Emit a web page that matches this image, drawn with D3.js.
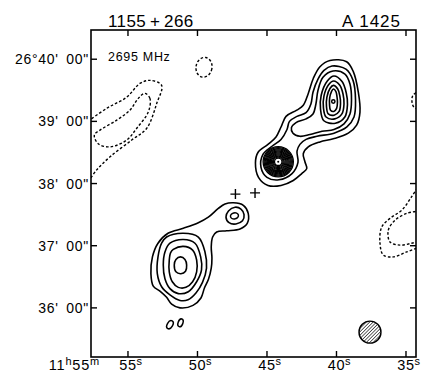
<!DOCTYPE html>
<html>
<head>
<meta charset="utf-8">
<script src="https://cdn.jsdelivr.net/npm/d3@7/dist/d3.min.js"></script>
<style>
  body { margin: 0; background: #fff; }
  text { font-family: "Liberation Sans", Arial, sans-serif; fill: #000; }
</style>
</head>
<body>
<div id="chart"></div>
<script>
// coordinates: [RA seconds of 11h55m, Dec arcmin of 26deg]
var xTicks = [55, 50, 45, 40, 35];
var xTickLabels = ["55", "50", "45", "40", "35"];
var yTicks = [40, 39, 38, 37, 36];
var yTickLabels = ["26°40' 00\"", "39' 00\"", "38' 00\"", "37' 00\"", "36' 00\""];

// positive contours, NE lobe + core
var neL1 = [[40.47,39.98],[39.27,39.96],[38.79,39.80],[38.43,39.47],[38.31,39.15],[38.55,38.94],[39.15,38.81],[40.23,38.72],[41.19,38.67],[42.03,38.59],[42.39,38.48],[42.27,38.35],[42.14,38.24],[42.50,38.16],[43.11,38.05],[43.99,37.97],[44.93,37.97],[45.61,38.10],[45.83,38.33],[45.65,38.50],[44.93,38.63],[44.35,38.75],[43.99,38.91],[43.63,39.08],[42.86,39.18],[42.39,39.26],[42.03,39.45],[41.67,39.69],[41.19,39.88]];
var neL2 = [[40.32,39.89],[39.32,39.84],[38.81,39.66],[38.63,39.34],[38.74,39.07],[39.25,38.91],[40.18,38.81],[41.40,38.76],[42.19,38.71],[42.63,38.63],[42.84,38.52],[42.77,38.34],[43.20,38.16],[44.14,38.06],[45.00,38.10],[45.43,38.26],[45.29,38.47],[44.64,38.60],[43.99,38.71],[43.56,38.87],[43.38,39.00],[42.84,39.08],[42.19,39.14],[41.84,39.28],[41.69,39.47],[41.33,39.68],[40.90,39.82]];
var neL3 = [[40.25,39.81],[39.39,39.76],[39.03,39.60],[38.92,39.34],[39.03,39.12],[39.46,38.96],[40.18,38.87],[41.04,38.84],[41.91,38.79],[42.63,38.76],[43.13,38.81],[43.24,38.90],[42.91,38.98],[42.19,39.04],[41.69,39.12],[41.48,39.28],[41.33,39.50],[40.97,39.71]];
var neL4 = [[40.18,39.73],[39.60,39.64],[39.30,39.46],[39.21,39.27],[39.40,39.07],[40.08,38.97],[40.91,39.01],[41.15,39.20],[41.10,39.42],[40.66,39.65]];
var neL5 = [[40.20,39.65],[39.76,39.58],[39.53,39.44],[39.46,39.28],[39.61,39.12],[40.12,39.04],[40.75,39.07],[40.94,39.22],[40.90,39.41],[40.57,39.59]];
var neL6 = [[40.22,39.58],[39.91,39.52],[39.76,39.41],[39.71,39.29],[39.81,39.16],[40.17,39.10],[40.59,39.12],[40.72,39.24],[40.69,39.39],[40.47,39.53]];
var neL7 = [[40.22,39.52],[40.04,39.48],[39.96,39.39],[39.93,39.31],[39.99,39.21],[40.19,39.16],[40.43,39.18],[40.50,39.27],[40.49,39.38],[40.36,39.48]];

// SW lobe + knot
var swL1 = [[47.42,37.69],[46.70,37.65],[46.35,37.52],[46.42,37.36],[46.94,37.27],[47.90,37.24],[48.62,37.22],[48.91,37.14],[49.01,36.98],[48.96,36.80],[49.01,36.64],[49.21,36.46],[49.50,36.32],[49.75,36.16],[50.32,36.04],[51.26,36.00],[51.86,36.06],[52.22,36.17],[52.70,36.27],[53.18,36.35],[53.35,36.55],[53.24,36.82],[52.84,37.04],[52.12,37.20],[51.02,37.28],[49.94,37.37],[49.22,37.46],[48.50,37.60],[48.02,37.67]];
var swL2 = [[52.22,37.14],[51.02,37.20],[49.94,37.14],[49.46,36.90],[49.35,36.64],[49.64,36.41],[50.11,36.24],[50.68,36.13],[51.26,36.12],[51.98,36.21],[52.58,36.34],[52.89,36.55],[52.84,36.82],[52.58,37.04]];
var swL3 = [[51.98,37.04],[51.02,37.10],[50.18,37.04],[49.77,36.82],[49.71,36.61],[50.06,36.42],[50.66,36.26],[51.38,36.23],[51.98,36.31],[52.34,36.47],[52.46,36.69],[52.34,36.90]];
var swL4 = [[51.74,36.94],[51.02,36.99],[50.35,36.93],[50.06,36.77],[50.06,36.58],[50.35,36.42],[50.83,36.33],[51.38,36.33],[51.81,36.42],[52.03,36.58],[52.03,36.77],[51.93,36.89]];
var swL5 = [[51.22,36.82],[50.90,36.78],[50.78,36.69],[50.86,36.59],[51.19,36.55],[51.55,36.58],[51.67,36.69],[51.55,36.78]];
var knotL2 = [[47.30,37.62],[46.87,37.59],[46.65,37.50],[46.76,37.40],[47.23,37.35],[47.73,37.37],[47.95,37.46],[47.77,37.56]];

var closedContours = [neL1, neL2, neL3, neL4, neL5, neL6, neL7, swL1, swL2, swL3, swL4, swL5, knotL2];

// small elliptical contours: [ra, dec, rx arcsec, ry arcsec, tilt deg]
var smallBlobs = [[40.23, 39.32, 1.6, 1.6, 0], [47.34, 37.48, 3.9, 2.9, -15], [51.98, 35.73, 2.6, 4.3, 30], [51.22, 35.76, 2.3, 3.9, 20]];

// core: centre and ring radii (arcsec)
var coreCentre = [44.19, 38.35];
var coreRadii = [14.6, 13.6, 12.6, 11.6, 10.6, 9.6, 8.6, 7.6, 6.6, 5.6, 4.6, 3.6];

// negative contours (dashed)
var dashOpen = [
  [[57.88,39.00],[56.53,39.21],[55.09,39.39],[54.14,39.61],[53.42,39.66],[52.58,39.58],[52.93,39.29],[53.65,38.89],[54.73,38.70],[56.29,38.43],[57.25,38.22],[57.88,38.02]],
  [[33.99,37.99],[34.59,37.79],[35.31,37.57],[36.15,37.44],[36.75,37.30],[36.87,37.04],[36.63,36.85],[35.91,36.82],[34.95,36.90],[33.99,36.98]],
  [[33.99,37.56],[34.95,37.52],[35.79,37.41],[36.27,37.25],[36.15,37.06],[35.43,37.01],[34.59,37.04],[33.99,37.07]],
  [[33.99,39.50],[34.50,39.42],[34.57,39.32],[34.43,39.23],[33.99,39.18]]
];
var dashClosed = [
  [[53.78,39.45],[53.42,39.37],[53.54,39.15],[54.37,38.89],[55.09,38.70],[56.29,38.59],[57.14,38.64],[57.42,38.78],[57.01,38.86],[55.81,39.02],[54.86,39.18],[54.26,39.37]]
];
var dashBlobs = [[49.53, 39.87, 7.7, 9.6, 10]];

var crosses = [[47.27, 37.83], [45.86, 37.85]];
var beam = [37.59, 35.61, 10.6];

var W = 421, H = 383;
var margin = {top: 30, right: 5, bottom: 26, left: 91};
var width = W - margin.left - margin.right,
    height = H - margin.top - margin.bottom;

var svg = d3.select("#chart").append("svg")
    .attr("width", W).attr("height", H);

var x = d3.scaleLinear().domain([57.66, 34.28]).range([0, width]);
var y = d3.scaleLinear().domain([35.21, 40.47]).range([height, 0]);
var arcsec = function(a) { return Math.abs(y(38) - y(38 + a / 60)); };

var defs = svg.append("defs");
defs.append("clipPath").attr("id", "plotclip")
  .append("rect").attr("width", width).attr("height", height);
var pat = defs.append("pattern").attr("id", "hatch")
    .attr("patternUnits", "userSpaceOnUse").attr("width", 2.4).attr("height", 2.4)
    .attr("patternTransform", "rotate(45)");
pat.append("line").attr("x1", 0).attr("y1", 0).attr("x2", 0).attr("y2", 2.4)
    .attr("stroke", "#000").attr("stroke-width", 1.2);

var g = svg.append("g").attr("transform", "translate(" + margin.left + "," + margin.top + ")");
var plot = g.append("g").attr("clip-path", "url(#plotclip)");

var closedLine = d3.line().x(function(d) { return x(d[0]); }).y(function(d) { return y(d[1]); })
    .curve(d3.curveCatmullRomClosed.alpha(0.5));
var openLine = d3.line().x(function(d) { return x(d[0]); }).y(function(d) { return y(d[1]); })
    .curve(d3.curveCatmullRom.alpha(0.5));

plot.selectAll("path.pos").data(closedContours).enter().append("path")
    .attr("class", "pos").attr("d", closedLine)
    .attr("fill", "none").attr("stroke", "#000").attr("stroke-width", 1.6);

plot.selectAll("ellipse.blob").data(smallBlobs).enter().append("ellipse")
    .attr("transform", function(d) { return "translate(" + x(d[0]) + "," + y(d[1]) + ") rotate(" + d[4] + ")"; })
    .attr("rx", function(d) { return arcsec(d[2]); })
    .attr("ry", function(d) { return arcsec(d[3]); })
    .attr("fill", "none").attr("stroke", "#000").attr("stroke-width", 1.5);

plot.selectAll("circle.core").data(coreRadii).enter().append("circle")
    .attr("cx", x(coreCentre[0])).attr("cy", y(coreCentre[1]))
    .attr("r", function(d) { return arcsec(d); })
    .attr("fill", "none").attr("stroke", "#000").attr("stroke-width", 1.3);
plot.append("circle").attr("cx", x(coreCentre[0])).attr("cy", y(coreCentre[1]))
    .attr("r", arcsec(1)).attr("fill", "#000");

var dashG = plot.append("g").attr("fill", "none").attr("stroke", "#000")
    .attr("stroke-width", 1.4).attr("stroke-dasharray", "2.6,2");
dashG.selectAll("path.open").data(dashOpen).enter().append("path").attr("d", openLine);
dashG.selectAll("path.closed").data(dashClosed).enter().append("path").attr("d", closedLine);
dashG.selectAll("ellipse").data(dashBlobs).enter().append("ellipse")
    .attr("transform", function(d) { return "translate(" + x(d[0]) + "," + y(d[1]) + ") rotate(" + d[4] + ")"; })
    .attr("rx", function(d) { return arcsec(d[2]); })
    .attr("ry", function(d) { return arcsec(d[3]); });

// crosses
crosses.forEach(function(c) {
  var cx = x(c[0]), cy = y(c[1]);
  plot.append("path").attr("d", "M" + (cx - 5) + "," + cy + "H" + (cx + 5) + "M" + cx + "," + (cy - 5) + "V" + (cy + 5))
      .attr("stroke", "#000").attr("stroke-width", 1.4);
});

// beam
plot.append("circle").attr("cx", x(beam[0])).attr("cy", y(beam[1])).attr("r", arcsec(beam[2]))
    .attr("fill", "url(#hatch)").attr("stroke", "#000").attr("stroke-width", 1.4);

// frame
g.append("rect").attr("width", width).attr("height", height)
    .attr("fill", "none").attr("stroke", "#000").attr("stroke-width", 1.6);

// ticks inside on all four sides
var tl = 6;
xTicks.forEach(function(t) {
  g.append("line").attr("x1", x(t)).attr("x2", x(t)).attr("y1", height).attr("y2", height - tl).attr("stroke", "#000").attr("stroke-width", 1.4);
  g.append("line").attr("x1", x(t)).attr("x2", x(t)).attr("y1", 0).attr("y2", tl).attr("stroke", "#000").attr("stroke-width", 1.4);
});
yTicks.forEach(function(t) {
  g.append("line").attr("x1", 0).attr("x2", tl).attr("y1", y(t)).attr("y2", y(t)).attr("stroke", "#000").attr("stroke-width", 1.4);
  g.append("line").attr("x1", width).attr("x2", width - tl).attr("y1", y(t)).attr("y2", y(t)).attr("stroke", "#000").attr("stroke-width", 1.4);
});

// x labels
xTicks.forEach(function(t, i) {
  var tx = g.append("text").attr("x", x(t) + 3).attr("y", height + 13)
      .attr("text-anchor", "middle").style("font-size", "14.5px").style("letter-spacing", "0.6px");
  tx.append("tspan").text(xTickLabels[i]);
  tx.append("tspan").attr("dy", -5).style("font-size", "11px").text("s");
});
var origin = g.append("text").attr("x", 9).attr("y", height + 13)
    .attr("text-anchor", "end").style("font-size", "14.5px").style("letter-spacing", "0.8px");
origin.append("tspan").text("11");
origin.append("tspan").attr("dy", -5).style("font-size", "11px").text("h");
origin.append("tspan").attr("dy", 5).text("55");
origin.append("tspan").attr("dy", -5).style("font-size", "11px").text("m");

// y labels
yTicks.forEach(function(t, i) {
  g.append("text").attr("x", -2).attr("y", y(t)).attr("dy", "0.36em")
      .attr("text-anchor", "end").style("font-size", "14px").style("letter-spacing", "0.7px")
      .text(yTickLabels[i].replace(" ", "\u2002"));
});

// titles
svg.append("text").attr("x", 108).attr("y", 27).style("font-size", "17px").style("letter-spacing", "0.4px")
    .text("1155\u2009+\u2009266");
svg.append("text").attr("x", 401).attr("y", 27).attr("text-anchor", "end").style("font-size", "17px").style("letter-spacing", "1px")
    .text("A 1425");
svg.append("text").attr("x", 108).attr("y", 61).style("font-size", "12.5px").style("letter-spacing", "0.7px")
    .text("2695 MHz");
</script>
</body>
</html>
